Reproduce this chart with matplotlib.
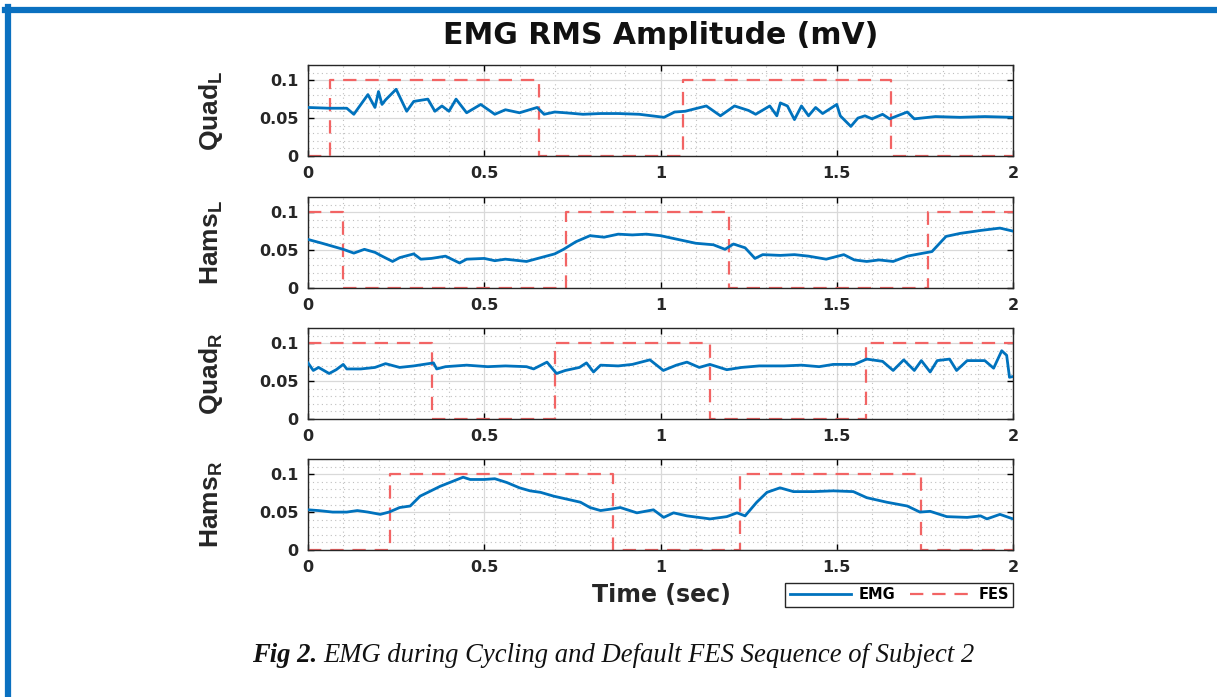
import matplotlib
matplotlib.use("Agg")
import matplotlib.pyplot as plt
from matplotlib.lines import Line2D
from matplotlib.ticker import MultipleLocator

# ---- data ----
# Quad L
t_quadL = [0.0, 0.06, 0.11, 0.13, 0.17, 0.19, 0.20, 0.21, 0.22, 0.25, 0.28, 0.30, 0.34, 0.36, 0.38,
           0.40, 0.42, 0.45, 0.49, 0.53, 0.56, 0.60, 0.65, 0.67, 0.70, 0.73, 0.78, 0.83, 0.88, 0.94,
           1.01, 1.04, 1.07, 1.13, 1.17, 1.21, 1.25, 1.27, 1.31, 1.33, 1.34, 1.36, 1.38, 1.40, 1.42,
           1.44, 1.46, 1.48, 1.50, 1.51, 1.54, 1.56, 1.58, 1.60, 1.63, 1.65, 1.70, 1.72, 1.78, 1.85,
           1.92, 2.0]
emg_quadL = [0.064, 0.063, 0.063, 0.055, 0.081, 0.064, 0.085, 0.068, 0.074, 0.088, 0.059, 0.072, 0.075, 0.059, 0.066,
             0.059, 0.075, 0.057, 0.068, 0.055, 0.061, 0.057, 0.064, 0.055, 0.058, 0.057, 0.055, 0.056, 0.056, 0.055,
             0.051, 0.058, 0.059, 0.066, 0.053, 0.066, 0.060, 0.055, 0.066, 0.053, 0.070, 0.066, 0.048, 0.066, 0.053,
             0.064, 0.056, 0.062, 0.068, 0.053, 0.039, 0.050, 0.053, 0.049, 0.055, 0.049, 0.058, 0.049, 0.052, 0.051,
             0.052, 0.051]
# Hams L
t_hamsL = [0.0, 0.04, 0.07, 0.10, 0.13, 0.16, 0.19, 0.21, 0.24, 0.26, 0.30, 0.32, 0.35, 0.39, 0.43,
           0.45, 0.50, 0.53, 0.56, 0.58, 0.62, 0.66, 0.70, 0.725, 0.76, 0.80, 0.84, 0.88, 0.92, 0.96,
           1.00, 1.05, 1.10, 1.15, 1.183, 1.207, 1.24, 1.268, 1.29, 1.34, 1.38, 1.42, 1.47, 1.52, 1.55,
           1.585, 1.62, 1.66, 1.70, 1.746, 1.77, 1.81, 1.85, 1.91, 1.963, 2.0]
emg_hamsL = [0.064, 0.059, 0.055, 0.051, 0.046, 0.051, 0.047, 0.042, 0.035, 0.040, 0.045, 0.038, 0.039, 0.042, 0.033,
             0.038, 0.039, 0.036, 0.038, 0.037, 0.035, 0.040, 0.045, 0.051, 0.061, 0.069, 0.067, 0.071, 0.070, 0.071,
             0.069, 0.064, 0.059, 0.057, 0.051, 0.058, 0.053, 0.039, 0.044, 0.043, 0.044, 0.042, 0.038, 0.044, 0.037,
             0.035, 0.037, 0.035, 0.042, 0.046, 0.048, 0.068, 0.072, 0.076, 0.079, 0.075]
# Quad R
t_quadR = [0.0, 0.015, 0.03, 0.06, 0.08, 0.10, 0.11, 0.15, 0.19, 0.22, 0.26, 0.30, 0.356, 0.365, 0.39,
           0.45, 0.51, 0.56, 0.62, 0.64, 0.678, 0.705, 0.73, 0.77, 0.79, 0.81, 0.83, 0.88, 0.92, 0.97,
           1.008, 1.045, 1.075, 1.11, 1.14, 1.188, 1.23, 1.28, 1.35, 1.40, 1.45, 1.49, 1.55, 1.585, 1.63,
           1.66, 1.69, 1.72, 1.74, 1.765, 1.785, 1.82, 1.84, 1.87, 1.92, 1.945, 1.968, 1.982, 1.99, 2.0]
emg_quadR = [0.074, 0.064, 0.068, 0.060, 0.065, 0.072, 0.066, 0.066, 0.068, 0.073, 0.068, 0.070, 0.074, 0.066, 0.069,
             0.071, 0.069, 0.070, 0.069, 0.066, 0.075, 0.060, 0.064, 0.068, 0.074, 0.062, 0.071, 0.070, 0.072, 0.078,
             0.064, 0.071, 0.075, 0.068, 0.072, 0.065, 0.068, 0.070, 0.070, 0.071, 0.069, 0.072, 0.072, 0.079, 0.076,
             0.064, 0.078, 0.064, 0.077, 0.062, 0.077, 0.079, 0.064, 0.077, 0.077, 0.067, 0.090, 0.084, 0.055, 0.056]
# Hams R
t_hamsR = [0.0, 0.03, 0.07, 0.11, 0.14, 0.17, 0.205, 0.23, 0.26, 0.29, 0.318, 0.34, 0.375, 0.413, 0.44,
           0.46, 0.50, 0.53, 0.564, 0.60, 0.63, 0.66, 0.697, 0.735, 0.773, 0.80, 0.83, 0.86, 0.886, 0.933,
           0.98, 1.009, 1.037, 1.075, 1.141, 1.188, 1.217, 1.24, 1.273, 1.302, 1.339, 1.377, 1.434, 1.49, 1.547,
           1.585, 1.642, 1.70, 1.736, 1.765, 1.812, 1.87, 1.908, 1.926, 1.963, 2.0]
emg_hamsR = [0.053, 0.052, 0.050, 0.050, 0.052, 0.050, 0.047, 0.050, 0.056, 0.058, 0.071, 0.076, 0.084, 0.091, 0.096,
             0.093, 0.093, 0.094, 0.089, 0.082, 0.078, 0.076, 0.071, 0.067, 0.063, 0.056, 0.052, 0.054, 0.056, 0.049,
             0.053, 0.043, 0.049, 0.045, 0.041, 0.044, 0.049, 0.045, 0.063, 0.076, 0.082, 0.077, 0.077, 0.078, 0.077,
             0.069, 0.063, 0.058, 0.050, 0.051, 0.044, 0.043, 0.045, 0.041, 0.047, 0.041]

# FES on/off sequences (switch times, level 0 or 0.1)
fes_t_quadL = [0.0, 0.061, 0.656, 1.065, 1.653, 2.0]
fes_v_quadL = [0.0, 0.1, 0.0, 0.1, 0.0, 0.0]
fes_t_hamsL = [0.0, 0.100, 0.732, 1.193, 1.760, 2.0]
fes_v_hamsL = [0.1, 0.0, 0.1, 0.0, 0.1, 0.1]
fes_t_quadR = [0.0, 0.353, 0.700, 1.141, 1.582, 2.0]
fes_v_quadR = [0.1, 0.0, 0.1, 0.0, 0.1, 0.1]
fes_t_hamsR = [0.0, 0.233, 0.865, 1.226, 1.738, 2.0]
fes_v_hamsR = [0.0, 0.1, 0.0, 0.1, 0.0, 0.0]

panel_labels = [r'Quad$_\mathrm{L}$', r'Hams$_\mathrm{L}$', r'Quad$_\mathrm{R}$', r'Hams$_\mathrm{R}$']
emg_series = [(t_quadL, emg_quadL), (t_hamsL, emg_hamsL), (t_quadR, emg_quadR), (t_hamsR, emg_hamsR)]
fes_series = [(fes_t_quadL, fes_v_quadL), (fes_t_hamsL, fes_v_hamsL),
              (fes_t_quadR, fes_v_quadR), (fes_t_hamsR, fes_v_hamsR)]

# ---- style ----
plt.rcParams['font.family'] = ['DejaVu Sans']
plt.rcParams['font.weight'] = 'bold'
plt.rcParams['mathtext.fontset'] = 'custom'
plt.rcParams['mathtext.rm'] = 'Liberation Sans:bold'
plt.rcParams['mathtext.it'] = 'Liberation Sans:bold'
plt.rcParams['mathtext.bf'] = 'Liberation Sans:bold'

emgColor = '#0072BD'
fesColor = '#f26464'
txtColor = '#262626'

fig = plt.figure(figsize=(12.17, 6.97), dpi=100)

# blue frame of the page box
fig.add_artist(Line2D([5 / 1217, 1], [1 - 9.5 / 697, 1 - 9.5 / 697], color='#0a70c0', lw=4.5))
fig.add_artist(Line2D([8 / 1217, 8 / 1217], [0, 1 - 7 / 697], color='#0a70c0', lw=4.5))

left = 308 / 1217
width = 705 / 1217
bottoms = [1 - 156 / 697, 1 - 288 / 697, 1 - 419 / 697, 1 - 550 / 697]
height = 91 / 697

axes = []
for i in range(4):
    ax = fig.add_axes([left, bottoms[i], width, height])
    t, v = emg_series[i]
    ax.plot(t, v, color=emgColor, lw=2.0, label='EMG', zorder=3)
    ft, fv = fes_series[i]
    ax.step(ft, fv, where='post', color=fesColor, lw=1.6, dashes=(6, 4), label='FES', zorder=2)

    ax.set_xlim(0, 2)
    ax.set_ylim(0, 0.12)
    ax.set_xticks([0, 0.5, 1, 1.5, 2])
    ax.set_xticklabels(['0', '0.5', '1', '1.5', '2'])
    ax.set_yticks([0, 0.05, 0.1])
    ax.set_yticklabels(['0', '0.05', '0.1'])
    ax.xaxis.set_minor_locator(MultipleLocator(0.1))
    ax.yaxis.set_minor_locator(MultipleLocator(0.01))
    ax.tick_params(which='both', direction='in', top=True, right=True)
    ax.tick_params(which='major', length=4, width=1, labelsize=11.5, pad=7)
    ax.tick_params(which='minor', length=0)
    for lab in ax.get_xticklabels() + ax.get_yticklabels():
        lab.set_fontweight('bold')
        lab.set_color(txtColor)
    ax.grid(which='major', color='#d9d9d9', lw=0.9)
    ax.grid(which='minor', color='#bfbfbf', lw=0.8, linestyle=(0, (1, 3)))
    ax.set_axisbelow(True)
    for s in ax.spines.values():
        s.set_color(txtColor)
        s.set_linewidth(1.0)
    ax.set_ylabel(panel_labels[i], fontsize=19, fontweight='bold', color=txtColor,
                  family='Liberation Sans')
    ax.yaxis.set_label_coords(-0.118, 0.5)
    axes.append(ax)

fig.text(660.5 / 1217, 1 - 36 / 697, 'EMG RMS Amplitude (mV)', ha='center', va='center',
         fontsize=21.5, fontweight='bold', color='#111111')
fig.text(661 / 1217, 1 - 595 / 697, 'Time (sec)', ha='center', va='center',
         fontsize=17, fontweight='bold', color=txtColor)

axes[3].legend(loc='upper right', bbox_to_anchor=(1.0, -0.36), borderaxespad=0, ncol=2,
               fancybox=False, edgecolor=txtColor, framealpha=1, handlelength=4.2,
               columnspacing=1.0, handletextpad=0.5, borderpad=0.3,
               prop={'weight': 'bold', 'size': 10.5})

cap = fig.text(252 / 1217, 1 - 655 / 697, 'Fig 2.', ha='left', va='center', family='Liberation Serif',
               style='italic', fontweight='bold', fontsize=19.2, color='#111111')
fig.canvas.draw()
bb = cap.get_window_extent()
fig.text(bb.x1 / fig.bbox.width + 6 / 1217, 1 - 655 / 697, 'EMG during Cycling and Default FES Sequence of Subject 2',
         ha='left', va='center', family='Liberation Serif', style='italic', fontweight='normal',
         fontsize=19.2, color='#111111')

fig.savefig('out.png', dpi=100)
plt.close()
